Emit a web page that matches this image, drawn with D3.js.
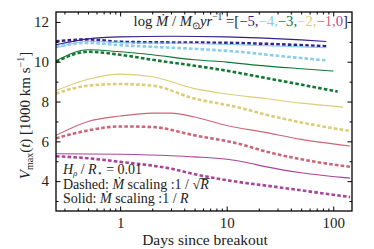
<!DOCTYPE html>
<html>
<head>
  <meta charset="utf-8">
  <script src="https://cdn.jsdelivr.net/npm/d3@7"></script>
  <style>
body { margin: 0; background: #fff; }
svg { font-family: "Liberation Serif", serif; }
.frame { fill: none; stroke: #000; stroke-width: 1.3; }
.tick line { stroke: #000; }
.lbl { fill: #222; }
  </style>
</head>
<body>
<svg width="374" height="249"></svg>
<script>

// log Mdot values and their colours
const mdots = ["−5", "−4", "−3", "−2", "−1", "0"];
const colors = ["#332288", "#88ccee", "#117733", "#ddcc77", "#cc6677", "#aa4499"];

// solid: Mdot scaling 1/R
const solidT = [
  [0.25, 0.5, 1, 3, 10, 20, 50, 86],
  [0.25, 0.5, 1, 5, 20, 86],
  [0.25, 0.5, 1, 2, 5, 10, 20, 50, 100],
  [0.25, 0.5, 1, 2, 5, 10, 23, 50, 124],
  [0.25, 0.5, 1, 2, 3, 5, 10, 23, 50, 144],
  [0.25, 1, 3, 5, 10, 15, 23, 50, 144]
];
const solidV = [
  [10.85, 11.15, 11.25, 11.28, 11.25, 11.2, 11.1, 11.02],
  [10.7, 11.03, 10.97, 10.92, 10.82, 10.7],
  [10.05, 10.6, 10.5, 10.35, 10.1, 9.98, 9.82, 9.65, 9.53],
  [8.55, 9.12, 9.38, 9.25, 8.65, 8.38, 8.15, 7.92, 7.72],
  [6.3, 7.0, 7.27, 7.42, 7.42, 7.22, 6.8, 6.45, 6.1, 5.77],
  [5.38, 5.35, 5.28, 5.22, 5.1, 4.95, 4.73, 4.42, 4.15]
];

// dashed: Mdot scaling 1/sqrt(R)
const dashT = [
  [0.25, 0.5, 1, 3, 10, 30, 86],
  [0.25, 0.5, 1, 2, 5, 13, 30, 86],
  [0.25, 0.5, 1, 2, 5, 10, 20, 50, 110],
  [0.25, 0.5, 1, 2, 5, 13, 23, 50, 144],
  [0.25, 0.5, 1, 2, 5, 13, 23, 50, 144],
  [0.25, 0.5, 1, 2, 3, 5, 10, 30, 144]
];
const dashV = [
  [11.03, 11.12, 11.0, 10.97, 10.95, 10.88, 10.78],
  [10.75, 10.95, 10.83, 10.75, 10.65, 10.5, 10.3, 10.07],
  [10.0, 10.5, 10.35, 10.1, 9.8, 9.55, 9.25, 8.85, 8.5],
  [8.4, 8.8, 8.88, 8.8, 8.15, 7.7, 7.35, 6.95, 6.52],
  [6.15, 6.55, 6.75, 6.72, 6.3, 5.88, 5.5, 5.1, 4.72],
  [5.25, 5.15, 4.97, 4.78, 4.63, 4.35, 4.05, 3.7, 3.2]
];

const yTicks = [4, 6, 8, 10, 12];
const xTicks = [1, 10, 100];

const svg = d3.select("svg");
const m = {left: 56, right: 352, top: 12, bottom: 211};

const x = d3.scaleLog().domain([0.25, 150]).range([m.left, m.right]);
const y = d3.scaleLinear().domain([2.5, 12.5]).range([m.bottom, m.top]);

const plot = svg.append("g");
plot.append("clipPath").attr("id", "clip")
  .append("rect").attr("x", m.left).attr("y", m.top)
  .attr("width", m.right - m.left).attr("height", m.bottom - m.top);

const line = d3.line().x(d => x(d[0])).y(d => y(d[1])).curve(d3.curveMonotoneX);
const lines = plot.append("g").attr("clip-path", "url(#clip)");

colors.forEach((c, i) => {
  lines.append("path")
    .attr("d", line(d3.zip(dashT[i], dashV[i])))
    .attr("fill", "none").attr("stroke", c)
    .attr("stroke-width", 2.6).attr("stroke-dasharray", "3.6,2.2");
  lines.append("path")
    .attr("d", line(d3.zip(solidT[i], solidV[i])))
    .attr("fill", "none").attr("stroke", c)
    .attr("stroke-width", 1.1);
});

// axes, ticks pointing inward on all four sides
const minorX = [];
[0.1, 1, 10, 100].forEach(d => { for (let k = 2; k < 10; k++) { const v = d * k; if (v >= 0.25 && v <= 150) minorX.push(v); } });
const minorY = [3, 5, 7, 9, 11];

function xAxis(g, orient, pos) {
  const ax = (orient === "bottom" ? d3.axisBottom(x) : d3.axisTop(x))
    .tickValues(xTicks).tickSizeInner(-4.5).tickSizeOuter(0).tickFormat(d3.format("d")).tickPadding(6);
  g.attr("transform", `translate(0,${pos})`).call(ax);
  const mi = (orient === "bottom" ? d3.axisBottom(x) : d3.axisTop(x))
    .tickValues(minorX).tickSizeInner(-2.5).tickSizeOuter(0).tickFormat("");
  g.append("g").call(mi);
}
function yAxis(g, orient, pos) {
  const ax = (orient === "left" ? d3.axisLeft(y) : d3.axisRight(y))
    .tickValues(yTicks).tickSizeInner(-4.5).tickSizeOuter(0).tickPadding(7);
  g.attr("transform", `translate(${pos},0)`).call(ax);
  const mi = (orient === "left" ? d3.axisLeft(y) : d3.axisRight(y))
    .tickValues(minorY).tickSizeInner(-2.5).tickSizeOuter(0).tickFormat("");
  g.append("g").call(mi);
}

const gb = svg.append("g"); xAxis(gb, "bottom", m.bottom);
const gt = svg.append("g"); xAxis(gt, "top", m.top); gt.selectAll("text").remove();
const gl = svg.append("g"); yAxis(gl, "left", m.left);
const gr = svg.append("g"); yAxis(gr, "right", m.right); gr.selectAll("text").remove();
svg.selectAll(".domain").remove();
svg.selectAll(".tick text").attr("font-family", "Liberation Serif, serif").attr("font-size", 15).attr("fill", "#222");

svg.append("rect").attr("class", "frame")
  .attr("x", m.left).attr("y", m.top)
  .attr("width", m.right - m.left).attr("height", m.bottom - m.top);

// axis labels
svg.append("text").attr("class", "lbl")
  .attr("x", 205).attr("y", 245)
  .attr("text-anchor", "middle").attr("font-size", 15.5)
  .text("Days since breakout");

const yl = svg.append("text").attr("class", "lbl")
  .attr("transform", `translate(30,${(m.top + m.bottom) / 2 + 4}) rotate(-90)`)
  .attr("text-anchor", "middle").attr("font-size", 15);
yl.append("tspan").attr("font-style", "italic").text("V");
yl.append("tspan").attr("font-size", 10).attr("dy", 3).text("max");
yl.append("tspan").attr("dy", -3).text("(");
yl.append("tspan").attr("font-style", "italic").text("t");
yl.append("tspan").text(")  [1000 km s");
yl.append("tspan").attr("font-size", 10).attr("dy", -6).text("−1");
yl.append("tspan").attr("dy", 6).text("]");

// legend of colours (top right)
const lg = svg.append("text").attr("class", "lbl")
  .attr("x", 348).attr("y", 26).attr("text-anchor", "end").attr("font-size", 14.7);
lg.append("tspan").text("log ");
lg.append("tspan").attr("font-style", "italic").text("Ṁ");
lg.append("tspan").text(" / ");
lg.append("tspan").attr("font-style", "italic").text("M");
lg.append("tspan").attr("font-size", 9.5).attr("dy", 3).text("⊙");
lg.append("tspan").attr("dy", -3).attr("font-style", "italic").text("yr");
lg.append("tspan").attr("font-size", 9.5).attr("dy", -6).text("−1");
lg.append("tspan").attr("dy", 6).text(" =[");
mdots.forEach((d, i) => {
  lg.append("tspan").attr("fill", colors[i]).text(d + (i < mdots.length - 1 ? "," : ""));
});
lg.append("tspan").text("]");

// notes (bottom left)
const n1 = svg.append("text").attr("class", "lbl").attr("x", 63).attr("y", 174).attr("font-size", 14);
n1.append("tspan").attr("font-style", "italic").text("H");
n1.append("tspan").attr("font-style", "italic").attr("font-size", 8.5).attr("dy", 1.5).text("ρ");
n1.append("tspan").attr("dy", -1.5).text(" / ");
n1.append("tspan").attr("font-style", "italic").text("R");
n1.append("tspan").attr("font-size", 8.5).attr("dy", 1.5).text("⋆");
n1.append("tspan").attr("dy", -1.5).text(" = 0.01");

const n2 = svg.append("text").attr("class", "lbl").attr("x", 63).attr("y", 189).attr("font-size", 14);
n2.append("tspan").text("Dashed: ");
n2.append("tspan").attr("font-style", "italic").text("Ṁ");
n2.append("tspan").text(" scaling :1 / √");
const rr = n2.append("tspan").attr("font-style", "italic").text("R");

const n3 = svg.append("text").attr("class", "lbl").attr("x", 63).attr("y", 203).attr("font-size", 14);
n3.append("tspan").text("Solid: ");
n3.append("tspan").attr("font-style", "italic").text("Ṁ");
n3.append("tspan").text(" scaling :1 / ");
n3.append("tspan").attr("font-style", "italic").text("R");

// overline for the square root
const nb = n2.node().getBBox();
const rw = rr.node().getComputedTextLength();
svg.append("line")
  .attr("x1", nb.x + nb.width - rw - 0.5).attr("x2", nb.x + nb.width + 0.5)
  .attr("y1", 178.5).attr("y2", 178.5)
  .attr("stroke", "#222").attr("stroke-width", 0.8);
</script>
</body>
</html>
